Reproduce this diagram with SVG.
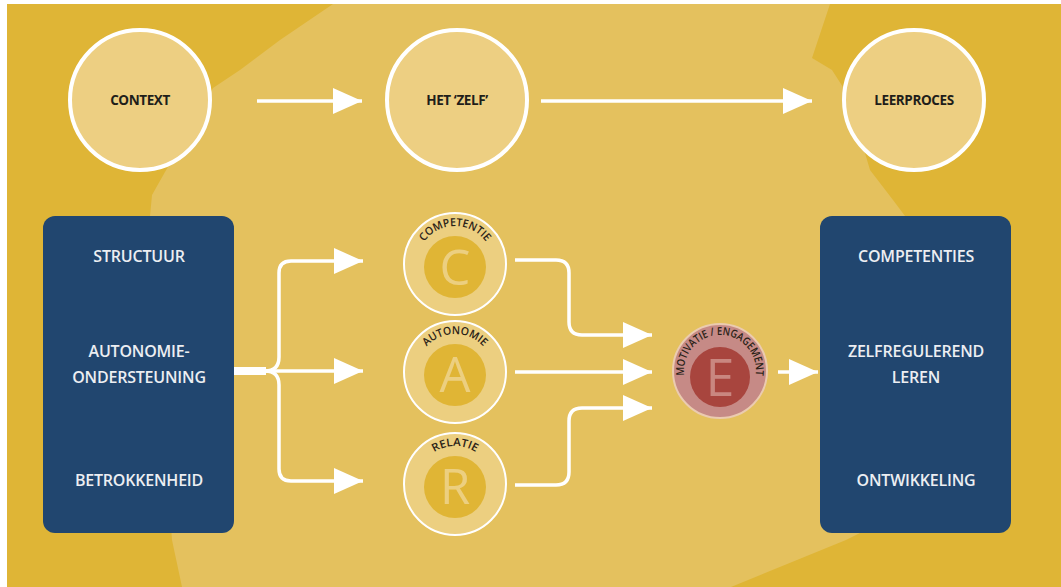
<svg xmlns="http://www.w3.org/2000/svg" xmlns:xlink="http://www.w3.org/1999/xlink" width="1061" height="587" viewBox="0 0 1061 587">
<style>
.bg{fill:#DFB536}
.blob{fill:#E4C15E}
.topc{fill:#EDCF82;stroke:#FFFFFF;stroke-width:4}
.toplbl{font-family:"Open Sans","Liberation Sans",sans-serif;font-weight:700;font-size:13.5px;fill:#1F1E1A;text-anchor:middle;letter-spacing:-0.4px}
.box{fill:#21466F}
.boxlbl{font-family:"Open Sans","Liberation Sans",sans-serif;font-weight:600;font-size:16px;fill:#ECEEF2;text-anchor:middle;letter-spacing:-0.2px}
.outer{fill:#ECCF80;stroke:#FFFFFF;stroke-width:2}
.inner{fill:#E0B535}
.letter{font-family:"Open Sans","Liberation Sans",sans-serif;font-size:49px;fill:#ECCF80;text-anchor:middle}
.arc{font-family:"Open Sans","Liberation Sans",sans-serif;font-weight:600;font-size:11px;fill:#2A2217}
.eouter{fill:#C68A86;stroke:#EBCBB0;stroke-width:2}
.einner{fill:#A8453E}
.eletter{fill:#C98780;font-size:52px}
.conn{fill:none;stroke:#FFFFFF;stroke-width:3.5;stroke-linejoin:round}
</style>
<defs>
<marker id="ah" markerUnits="userSpaceOnUse" markerWidth="30" markerHeight="28" refX="29" refY="13" orient="auto">
<path d="M0,0 L29,13 L0,26 Z" fill="#FFFFFF"/>
</marker>
<path id="arcC" d="M 417 264 A 38 38 0 0 1 493 264"/>
<path id="arcA" d="M 417 372 A 38 38 0 0 1 493 372"/>
<path id="arcR" d="M 417 484 A 38 38 0 0 1 493 484"/>
<path id="arcE" d="M 720 407 A 36 36 0 1 1 720 335 A 36 36 0 1 1 720 407"/>
</defs>

<g id="background">
<rect x="0" y="0" width="1061" height="587" fill="#FFFFFF"/>
<rect class="bg" x="7" y="4" width="1054" height="583"/>
<path class="blob" d="M333,4 L830,4 L818,40 L812,58 L832,70 L848,95 L870,170 L893,200 L905,216 L880,470 L860,533 L846,540 L731,587 L182,587 L172,540 L150,216 L152,195 L165,172 L200,110 L213,88 L240,70 L280,40 Z"/>
</g>

<g id="node-context">
<circle class="topc" cx="140" cy="100" r="70"/>
<text class="toplbl" x="140" y="105">CONTEXT</text>
</g>
<g id="node-zelf">
<circle class="topc" cx="457" cy="100" r="70"/>
<text class="toplbl" x="457" y="105">HET ‘ZELF’</text>
</g>
<g id="node-leerproces">
<circle class="topc" cx="914" cy="100" r="70"/>
<text class="toplbl" x="914" y="105">LEERPROCES</text>
</g>

<g id="node-left-box">
<rect class="box" x="43" y="216" width="191" height="317" rx="12"/>
<text class="boxlbl" x="139" y="262">STRUCTUUR</text>
<text class="boxlbl" x="139" y="357">AUTONOMIE-</text>
<text class="boxlbl" x="139" y="383">ONDERSTEUNING</text>
<text class="boxlbl" x="139" y="486">BETROKKENHEID</text>
</g>

<g id="node-right-box">
<rect class="box" x="820" y="216" width="191" height="317" rx="12"/>
<text class="boxlbl" x="916" y="262">COMPETENTIES</text>
<text class="boxlbl" x="916" y="357">ZELFREGULEREND</text>
<text class="boxlbl" x="916" y="383">LEREN</text>
<text class="boxlbl" x="916" y="486">ONTWIKKELING</text>
</g>

<g id="connectors">
<line class="conn" x1="257" y1="101" x2="362" y2="101" stroke-width="3" marker-end="url(#ah)"/>
<line class="conn" x1="541" y1="101" x2="812" y2="101" stroke-width="3" marker-end="url(#ah)"/>
<line x1="234" y1="371" x2="266" y2="371" stroke="#FFFFFF" stroke-width="8"/>
<path class="conn" d="M 234 371 L 265 371 Q 279 371 279 357 L 279 273 Q 279 261 291 261 L 363 261" marker-end="url(#ah)"/>
<path class="conn" d="M 234 371 L 363 371" marker-end="url(#ah)"/>
<path class="conn" d="M 234 371 L 265 371 Q 279 371 279 385 L 279 469 Q 279 481 291 481 L 363 481" marker-end="url(#ah)"/>
<path class="conn" d="M 515 260 L 556 260 Q 569 260 569 273 L 569 322 Q 569 335 582 335 L 652 335" marker-end="url(#ah)"/>
<path class="conn" d="M 515 372 L 652 372" marker-end="url(#ah)"/>
<path class="conn" d="M 515 485 L 556 485 Q 569 485 569 472 L 569 421 Q 569 408 582 408 L 652 408" marker-end="url(#ah)"/>
<path class="conn" d="M 778 372 L 818 372" marker-end="url(#ah)"/>
</g>

<g id="node-c">
<circle class="outer" cx="455" cy="264" r="51"/>
<circle class="inner" cx="455" cy="267" r="31"/>
<text class="letter" x="455" y="285">C</text>
<text class="arc"><textPath xlink:href="#arcC" href="#arcC" startOffset="50%" text-anchor="middle" textLength="72" lengthAdjust="spacingAndGlyphs">COMPETENTIE</textPath></text>
</g>
<g id="node-a">
<circle class="outer" cx="455" cy="372" r="51"/>
<circle class="inner" cx="455" cy="375" r="31"/>
<text class="letter" x="455" y="392">A</text>
<text class="arc"><textPath xlink:href="#arcA" href="#arcA" startOffset="50%" text-anchor="middle" textLength="64" lengthAdjust="spacingAndGlyphs">AUTONOMIE</textPath></text>
</g>
<g id="node-r">
<circle class="outer" cx="455" cy="484" r="51"/>
<circle class="inner" cx="455" cy="487" r="31"/>
<text class="letter" x="455" y="504">R</text>
<text class="arc"><textPath xlink:href="#arcR" href="#arcR" startOffset="50%" text-anchor="middle" textLength="44" lengthAdjust="spacingAndGlyphs">RELATIE</textPath></text>
</g>
<g id="node-e">
<circle class="eouter" cx="720" cy="371" r="47"/>
<circle class="einner" cx="720" cy="377" r="30"/>
<text class="letter eletter" x="720" y="396">E</text>
<text class="arc"><textPath xlink:href="#arcE" href="#arcE" startOffset="50%" text-anchor="middle" textLength="122" lengthAdjust="spacingAndGlyphs">MOTIVATIE / ENGAGEMENT</textPath></text>
</g>
</svg>
